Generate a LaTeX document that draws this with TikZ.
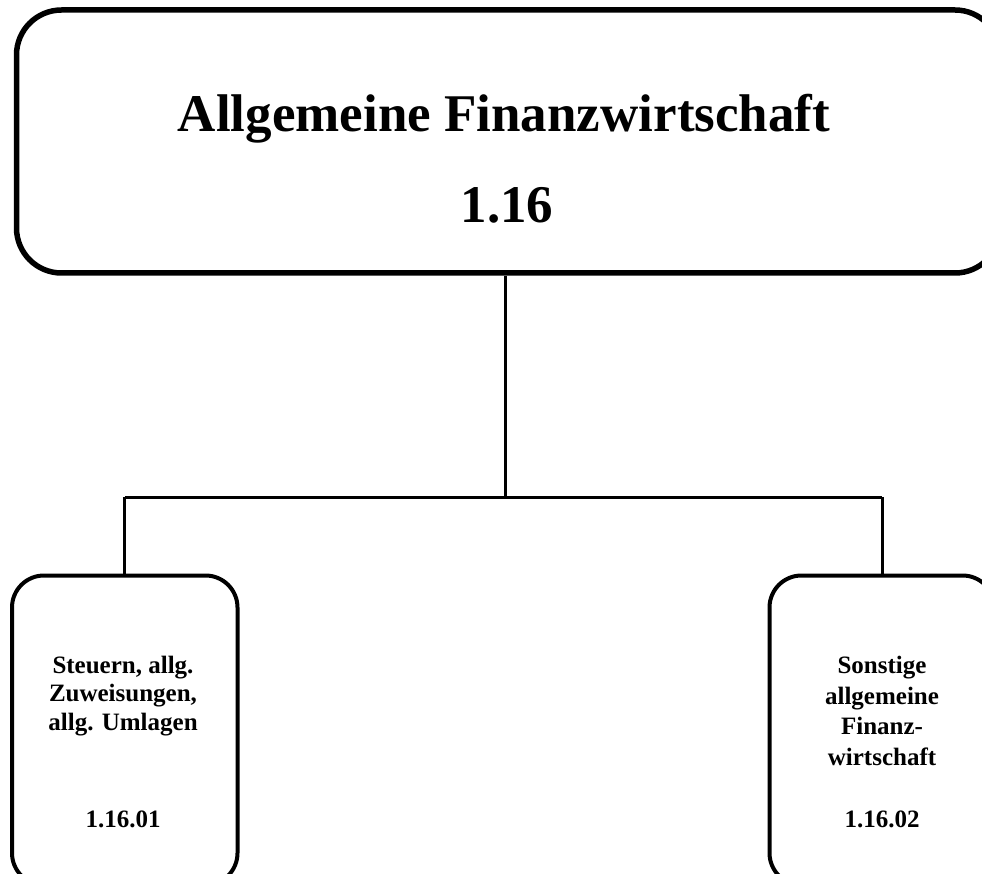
\documentclass[tikz,border=0pt]{standalone}
\usepackage{fontspec}
\setmainfont{Liberation Serif}
\begin{document}
\begin{tikzpicture}[x=1pt,y=-1pt,
  bigbox/.style={draw, line width=5.5pt, rounded corners=45pt, inner sep=0pt},
  smallbox/.style={draw, line width=4pt, rounded corners=32pt, inner sep=0pt},
  conn/.style={line width=3pt},
  titletext/.style={font=\fontsize{53}{60}\selectfont\bfseries, anchor=base, inner sep=0pt},
  lbl/.style={font=\fontsize{25}{28}\selectfont\bfseries, anchor=base, inner sep=0pt}]
\useasboundingbox (0,0) rectangle (982,874);
\clip (0,0) rectangle (982,874);

\node[bigbox, minimum width=983.5pt, minimum height=263pt] (top) at (508.25,141.5) {};
\node[titletext] (t1) at (504,132) {Allgemeine Finanzwirtschaft};
\node[titletext] (t2) at (507,223) {1.16};

\node[smallbox, minimum width=225.5pt, minimum height=309.5pt] (lbox) at (124.75,730.25) {};
\node[smallbox, minimum width=225pt, minimum height=309.5pt] (rbox) at (882,730.25) {};

\coordinate (j) at (505,497);
\coordinate (jl) at (124.75,497);
\coordinate (jr) at (882,497);

\draw[conn] (top.south -| j) -- (j);
\draw[conn] (jl) -- (jr);
\draw[conn] (jl) -- (lbox.north);
\draw[conn] (jr) -- (rbox.north);

\node[lbl] (l1) at (123,673) {Steuern, allg.};
\node[lbl] (l2) at (123,701.5) {Zuweisungen,};
\node[lbl] (l3) at (123,730) {allg. Umlagen};
\node[lbl] (l4) at (123,827) {1.16.01};

\node[lbl] (r1) at (882,673) {Sonstige};
\node[lbl] (r2) at (882,704) {allgemeine};
\node[lbl] (r3) at (882,734.5) {Finanz-};
\node[lbl] (r4) at (882,765) {wirtschaft};
\node[lbl] (r5) at (882,827) {1.16.02};
\end{tikzpicture}
\end{document}
